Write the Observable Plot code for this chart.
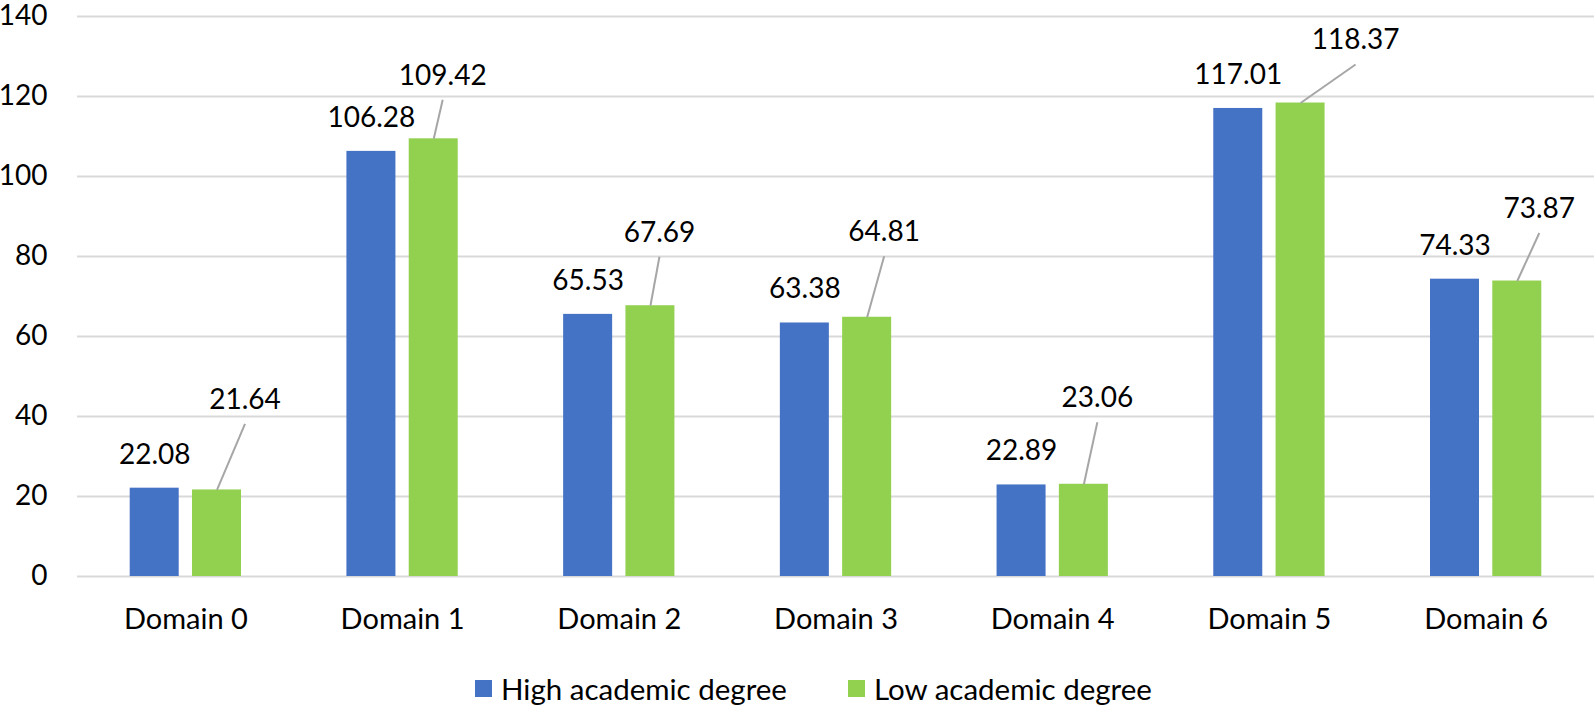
<!DOCTYPE html>
<html>
<head>
<meta charset="utf-8">
<script src="https://cdn.jsdelivr.net/npm/d3@7"></script>
<script src="https://cdn.jsdelivr.net/npm/@observablehq/plot@0.6"></script>
<style>
  html, body { margin: 0; padding: 0; background: #fff; }
  #chart { position: relative; width: 1594px; height: 707px; overflow: hidden; font-family: Lato, "Open Sans", sans-serif; }
  #chart > svg { overflow: visible; }
  #chart g[aria-label^="x-axis"] text { font-size: 29px; }
  #legend { position: absolute; top: 671px; left: 475px; }
  div.lg-swatches { font-family: Lato, sans-serif !important; font-size: 29.5px !important; color: #000 !important; margin: 0 !important; min-height: 32px; display: flex; align-items: center; }
  div.lg-swatches .lg-swatch { margin-right: 61px !important; display: inline-flex; align-items: center; }
  div.lg-swatches .lg-swatch > svg { margin-right: 9px !important; }
</style>
</head>
<body>
<div id="chart"></div>
<script>
// ---- data ----
const categories = ["Domain 0", "Domain 1", "Domain 2", "Domain 3", "Domain 4", "Domain 5", "Domain 6"];
const series = ["High academic degree", "Low academic degree"];
const highValues = [22.08, 106.28, 65.53, 63.38, 22.89, 117.01, 74.33];
const lowValues = [21.64, 109.42, 67.69, 64.81, 23.06, 118.37, 73.87];
const yTicks = [0, 20, 40, 60, 80, 100, 120, 140];
const colors = ["#4472C4", "#92D050"];

// ---- layout (pixels) ----
const W = 1594, H = 650, ML = 77, MR = 0, MT = 16, MB = 74;
const BAR = 49, GAP = 13.3;
// callout placement of the "Low" labels relative to their bar top (px)
const lowLabelShift = [[28, -90], [9, -63], [9, -73], [17, -85], [13.5, -86], [55, -62.5], [22, -72]];
const LEADER_GAP = 24;

const ppuX = (W - ML - MR) / categories.length;
const ppuY = (H - MT - MB) / 140;
const blueX1 = -(GAP / 2 + BAR) / ppuX, blueX2 = -(GAP / 2) / ppuX;
const greenX1 = (GAP / 2) / ppuX, greenX2 = (GAP / 2 + BAR) / ppuX;

const rows = [];
categories.forEach((c, i) => {
  rows.push({i, s: series[0], v: highValues[i], x1: i + blueX1, x2: i + blueX2});
  rows.push({i, s: series[1], v: lowValues[i], x1: i + greenX1, x2: i + greenX2});
});
const highRows = rows.filter(d => d.s === series[0]).map(d => ({...d, cx: (d.x1 + d.x2) / 2}));
const lowRows = rows.filter(d => d.s === series[1]).map(d => {
  const [dx, dy] = lowLabelShift[d.i];
  const cx = (d.x1 + d.x2) / 2;
  return {...d, cx, lx: cx + dx / ppuX, ly: d.v + (-dy - LEADER_GAP) / ppuY};
});

const plot = Plot.plot({
  width: W,
  height: H,
  marginLeft: ML,
  marginRight: MR,
  marginTop: MT,
  marginBottom: MB,
  style: {fontFamily: "Lato, 'Open Sans', sans-serif", fontSize: "28px", color: "#000", background: "#fff"},
  x: {type: "linear", domain: [-0.5, categories.length - 0.5], ticks: d3.range(categories.length), tickFormat: i => categories[i], tickSize: 0, tickPadding: 32, label: null},
  y: {domain: [0, 140], ticks: yTicks, tickSize: 0, tickPadding: 30, label: null},
  color: {domain: series, range: colors},
  marks: [
    Plot.ruleY(yTicks, {stroke: "#D9D9D9", strokeWidth: 2}),
    Plot.rectY(rows, {x1: "x1", x2: "x2", y1: 0, y2: "v", fill: "s"}),
    Plot.link(lowRows, {x1: "cx", y1: "v", x2: "lx", y2: "ly", stroke: "#A6A6A6", strokeWidth: 2}),
    Plot.text(highRows, {x: "cx", y: "v", text: d => d.v.toFixed(2), dy: -33.5, fill: "#000"}),
    Plot.text(lowRows, {x: "lx", y: "ly", text: d => d.v.toFixed(2), dy: -LEADER_GAP, fill: "#000"})
  ]
});

const chart = document.getElementById("chart");
chart.appendChild(plot);

const legend = Plot.legend({
  color: {type: "ordinal", domain: series, range: colors},
  swatchSize: 17,
  className: "lg"
});
const lg = document.createElement("div");
lg.id = "legend";
lg.appendChild(legend);
chart.appendChild(lg);
</script>
</body>
</html>
